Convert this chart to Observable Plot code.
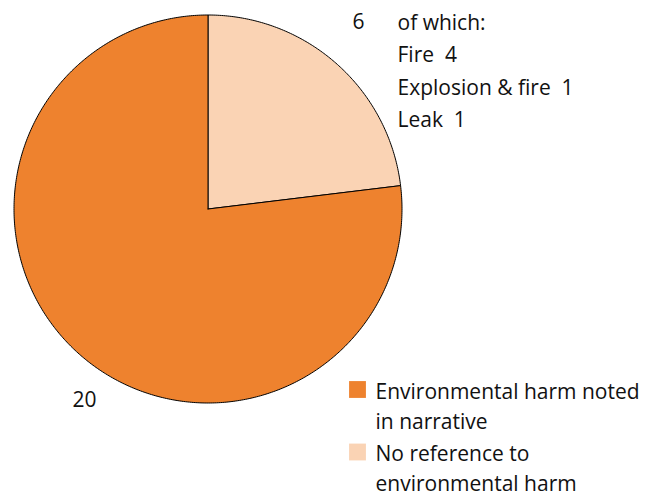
<!DOCTYPE html>
<html>
<head>
<meta charset="utf-8">
<script src="https://cdn.jsdelivr.net/npm/d3@7"></script>
<script src="https://cdn.jsdelivr.net/npm/@observablehq/plot@0.6"></script>
<style>
  html, body { margin: 0; padding: 0; background: #fff; }
  #chart { width: 654px; height: 492px; }
</style>
</head>
<body>
<div id="chart"></div>
<script>
// Data
const categories = ["No reference to environmental harm", "Environmental harm noted in narrative"];
const counts = [6, 20];
const colors = ["#FAD3B4", "#EE822E"];
const legendLabels = ["Environmental harm noted\nin narrative", "No reference to\nenvironmental harm"];
const legendCategories = ["Environmental harm noted in narrative", "No reference to environmental harm"];
const breakdownLabels = ["Fire", "Explosion & fire", "Leak"];
const breakdownCounts = [4, 1, 1];

// Build slice outlines (unit circle, clockwise from 12 o'clock)
const pie = d3.pie().sort(null).value(d => d)(counts);
const slicePts = [];
pie.forEach((p, i) => {
  const cat = categories[i];
  slicePts.push({cat, x: 0, y: 0});
  const n = Math.max(2, Math.ceil((p.endAngle - p.startAngle) / 0.01));
  for (let k = 0; k <= n; k++) {
    const a = p.startAngle + (p.endAngle - p.startAngle) * k / n;
    slicePts.push({cat, x: Math.sin(a), y: Math.cos(a)});
  }
  slicePts.push({cat, x: 0, y: 0});
});

const font = "'Open Sans', sans-serif";
const fs = 21;
const breakdownText = "of which:\n" + breakdownLabels.map((l, i) => `${l}  ${breakdownCounts[i]}`).join("\n");

const legendMarks = legendCategories.flatMap((c, i) => [
  Plot.dot([c], {fill: d => d, symbol: "square", r: 9.5, frameAnchor: "top-left", dx: 357, dy: [389, 451.5][i], stroke: null}),
  Plot.text([legendLabels[i]], {text: d => d, frameAnchor: "top-left", dx: 375, dy: [404, 466][i], textAnchor: "start", lineAnchor: "middle", fontSize: fs, lineHeight: 1.45, fill: "#111"})
]);

const chart = Plot.plot({
  width: 654,
  height: 492,
  marginTop: 0, marginRight: 0, marginBottom: 0, marginLeft: 0,
  style: {fontFamily: font, background: "#fff"},
  x: {domain: [-1, 1], range: [13.5, 401.5], axis: null},
  y: {domain: [-1, 1], range: [402.5, 14.5], axis: null},
  color: {domain: categories, range: colors},
  marks: [
    Plot.line(slicePts, {x: "x", y: "y", z: "cat", fill: "cat", stroke: "#000", strokeWidth: 1, curve: "linear"}),
    // slice labels
    Plot.text([counts[0]], {text: d => String(d), frameAnchor: "top-left", dx: 352, dy: 22, textAnchor: "start", lineAnchor: "middle", fontSize: fs, fill: "#111"}),
    Plot.text([breakdownText], {text: d => d, frameAnchor: "top-left", dx: 397, dy: 6, textAnchor: "start", lineAnchor: "top", fontSize: fs, lineHeight: 1.55, fill: "#111"}),
    Plot.text([counts[1]], {text: d => String(d), frameAnchor: "top-left", dx: 72, dy: 400, textAnchor: "start", lineAnchor: "middle", fontSize: fs, fill: "#111"}),
    ...legendMarks
  ]
});
document.getElementById("chart").append(chart);
</script>
</body>
</html>
